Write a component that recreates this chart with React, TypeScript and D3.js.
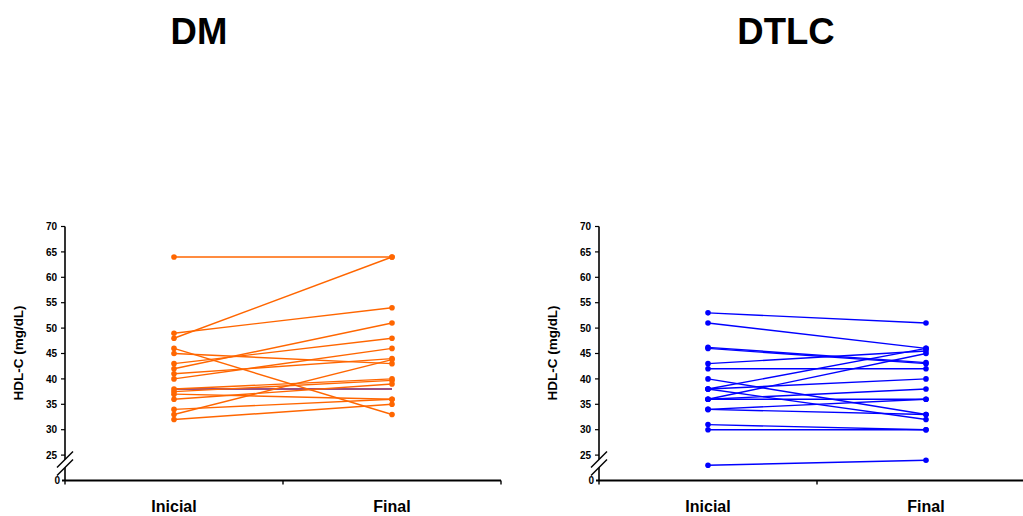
import React from "react";
import * as d3 from "d3";

const categories = ["Inicial", "Final"];
const yTicks = [25, 30, 35, 40, 45, 50, 55, 60, 65, 70];

// DM: pairs [Inicial, Final]
const dmInicial = [64, 48, 49, 42, 43, 40, 46, 45, 41, 33, 38, 37.5, 36, 37, 34, 32];
const dmFinal = [64, 64, 54, 51, 48, 46, 33, 43, 44, 43.8, 40, 39.7, 39, 36, 36, 35];
// line drawn in a different hue in DM (flat at 38)
const dmExtraInicial = [38];
const dmExtraFinal = [38];

// DTLC
const dtlcInicial = [53, 51, 46, 46.2, 43, 42, 40, 38, 38, 38, 36, 36, 36, 34, 34, 31, 30, 23];
const dtlcFinal = [51, 46, 43, 43.2, 45.5, 42, 33, 46, 40, 32, 45, 38, 36, 36, 33, 30, 30, 24];

const W = 1023;
const H = 516;

type PanelProps = {
  title: string;
  titleX: number;
  axisX: number;
  inicial: number[];
  final: number[];
  color: string;
  extraInicial?: number[];
  extraFinal?: number[];
  extraColor?: string;
};

function Panel({ title, titleX, axisX, inicial, final, color, extraInicial, extraFinal, extraColor }: PanelProps) {
  const y = d3.scaleLinear().domain([20, 70]).range([480.5, 226.5]);
  const plotW = 436;
  const x = d3.scaleBand<string>().domain(categories).range([axisX, axisX + plotW]);
  const cx = (c: string) => (x(c) as number) + x.bandwidth() / 2;
  const font = "Arial, 'Liberation Sans', sans-serif";
  const line = d3.line<[number, number]>().x((d) => d[0]).y((d) => d[1]);

  const pairs = inicial.map((v, i) => [v, final[i]]);
  const extraPairs = (extraInicial || []).map((v, i) => [v, (extraFinal || [])[i]]);
  const y0 = y(20);

  return (
    <g>
      <text x={titleX} y={44} textAnchor="middle" fontFamily={font} fontWeight="bold" fontSize={36.5} fill="#000">
        {title}
      </text>
      {/* y axis label */}
      <text
        transform={`translate(${axisX - 42},${353}) rotate(-90)`}
        textAnchor="middle"
        fontFamily={font}
        fontWeight="bold"
        fontSize={13.5}
        fill="#000"
      >
        HDL-C (mg/dL)
      </text>
      {/* lines */}
      {extraPairs.map((p, i) => (
        <path key={"e" + i} d={line([[cx("Inicial"), y(p[0])], [cx("Final"), y(p[1])]]) as string} stroke={extraColor} strokeWidth={2} fill="none" />
      ))}
      {pairs.map((p, i) => (
        <path key={"l" + i} d={line([[cx("Inicial"), y(p[0])], [cx("Final"), y(p[1])]]) as string} stroke={color} strokeWidth={1.4} fill="none" />
      ))}
      {pairs.map((p, i) => (
        <g key={"d" + i}>
          <circle cx={cx("Inicial")} cy={y(p[0])} r={2.8} fill={color} />
          <circle cx={cx("Final")} cy={y(p[1])} r={2.8} fill={color} />
        </g>
      ))}
      {/* y axis */}
      <line x1={axisX} x2={axisX} y1={y(70)} y2={y0} stroke="#000" strokeWidth={1.6} />
      {yTicks.map((t) => (
        <g key={t}>
          <line x1={axisX - 4} x2={axisX} y1={y(t)} y2={y(t)} stroke="#000" strokeWidth={1.2} />
          <text x={axisX - 8} y={y(t) + 3.6} textAnchor="end" fontFamily={font} fontWeight="bold" fontSize={10} fill="#000">
            {t}
          </text>
        </g>
      ))}
      <text x={axisX - 5} y={y0 + 3.6} textAnchor="end" fontFamily={font} fontWeight="bold" fontSize={10} fill="#000">
        0
      </text>
      {/* x axis */}
      <line x1={axisX - 3} x2={axisX + plotW} y1={y0} y2={y0} stroke="#000" strokeWidth={1.8} />
      <line x1={axisX} x2={axisX} y1={y0} y2={y0 + 4} stroke="#000" strokeWidth={1.4} />
      <line x1={axisX + plotW / 2} x2={axisX + plotW / 2} y1={y0} y2={y0 + 4} stroke="#000" strokeWidth={1.4} />
      <line x1={axisX + plotW} x2={axisX + plotW} y1={y0} y2={y0 + 4} stroke="#000" strokeWidth={1.4} />
      {categories.map((c) => (
        <text key={c} x={cx(c)} y={512} textAnchor="middle" fontFamily={font} fontWeight="bold" fontSize={16} fill="#000">
          {c}
        </text>
      ))}
      {/* axis break */}
      <polygon
        points={`${axisX - 8},${y0 - 13} ${axisX + 8},${y0 - 29} ${axisX + 8},${y0 - 21} ${axisX - 8},${y0 - 5}`}
        fill="#fff"
      />
      <line x1={axisX - 8} y1={y0 - 13} x2={axisX + 8} y2={y0 - 29} stroke="#000" strokeWidth={1.5} />
      <line x1={axisX - 8} y1={y0 - 5} x2={axisX + 8} y2={y0 - 21} stroke="#000" strokeWidth={1.5} />
    </g>
  );
}

export default function App() {
  return (
    <svg width={W} height={H} style={{ position: "absolute", left: 0, top: 0, background: "#fff" }}>
      <rect x={0} y={0} width={W} height={H} fill="#fff" />
      <Panel
        title="DM"
        titleX={199}
        axisX={65}
        inicial={dmInicial}
        final={dmFinal}
        color="#FF6600"
        extraInicial={dmExtraInicial}
        extraFinal={dmExtraFinal}
        extraColor="#9a4f82"
      />
      <Panel title="DTLC" titleX={786} axisX={599} inicial={dtlcInicial} final={dtlcFinal} color="#0000FF" />
    </svg>
  );
}
